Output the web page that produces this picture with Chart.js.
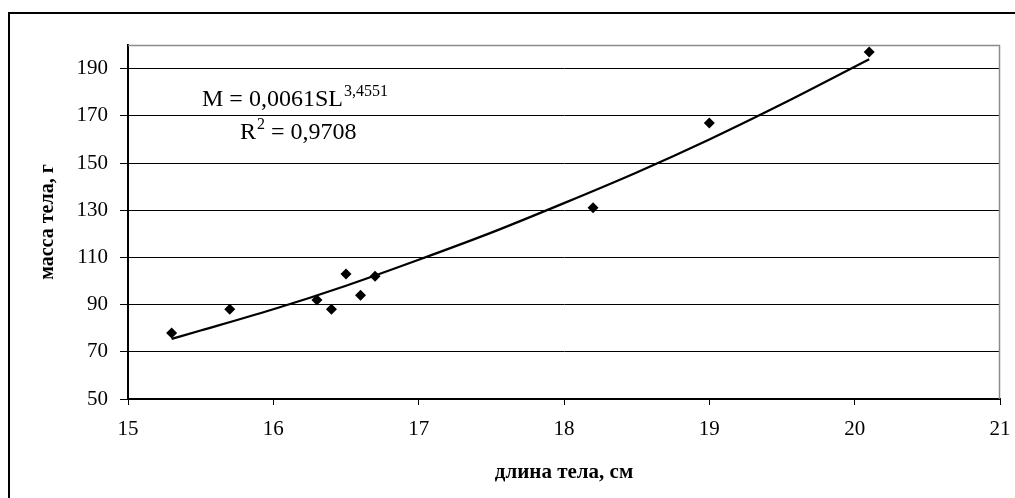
<!DOCTYPE html>
<html>
<head>
<meta charset="utf-8">
<style>
  html, body { margin: 0; padding: 0; background: #fff; }
  #wrap { width: 1015px; height: 498px; }
</style>
<script src="https://cdn.jsdelivr.net/npm/chart.js@4/dist/chart.umd.min.js"></script>
</head>
<body>
<div id="wrap"><canvas id="c" width="1015" height="498"></canvas></div>
<script>
// measured points: body length (cm) vs body mass (g)
const lengths = [15.3, 15.7, 16.3, 16.4, 16.5, 16.6, 16.7, 18.2, 19.0, 20.1];
const masses = [78, 88, 92, 88, 103, 94, 102, 131, 167, 197];

// trend line
const trendX = [15.3, 15.5, 16, 16.5, 17, 17.5, 18, 18.5, 19, 19.5, 20.1];
const trendY = [75.5, 79, 88, 98, 109, 120.5, 133, 146, 160, 175, 194];

const yTicks = [50, 70, 90, 110, 130, 150, 170, 190];
const xTicks = [15, 16, 17, 18, 19, 20, 21];

const xTitle = "длина тела, см";
const yTitle = "масса тела, г";
const eqMain = "M = 0,0061SL";
const eqPow = "3,4551";
const r2Lead = "R";
const r2Pow = "2";
const r2Tail = " = 0,9708";

const serif = "'Liberation Serif', 'Times New Roman', serif";

const decor = {
  id: "decor",
  beforeDraw(chart) {
    const ctx = chart.ctx;
    ctx.save();
    ctx.fillStyle = "#fff";
    ctx.fillRect(0, 0, chart.width, chart.height);
    // outer frame (left and top visible)
    ctx.strokeStyle = "#000";
    ctx.lineWidth = 2;
    ctx.beginPath();
    ctx.moveTo(9, chart.height + 5);
    ctx.lineTo(9, 13);
    ctx.lineTo(chart.width + 5, 13);
    ctx.stroke();
    ctx.restore();
  },
  beforeDatasetsDraw(chart) {
    const { ctx, chartArea: a } = chart;
    ctx.save();
    ctx.strokeStyle = "#8c8c8c";
    ctx.lineWidth = 1.5;
    ctx.beginPath();
    ctx.moveTo(a.left, a.top + 0.5);
    ctx.lineTo(a.right - 0.5, a.top + 0.5);
    ctx.lineTo(a.right - 0.5, a.bottom);
    ctx.stroke();
    ctx.restore();
  },
  afterDraw(chart) {
    const { ctx, chartArea: a } = chart;
    ctx.save();
    ctx.fillStyle = "#000";
    ctx.textBaseline = "alphabetic";
    ctx.textAlign = "left";
    let x = a.left + 74;
    let y = a.top + 61;
    ctx.font = "24px " + serif;
    ctx.fillText(eqMain, x, y);
    x += ctx.measureText(eqMain).width + 1;
    ctx.font = "16px " + serif;
    ctx.fillText(eqPow, x, y - 10);

    x = a.left + 112;
    y = a.top + 94;
    ctx.font = "24px " + serif;
    ctx.fillText(r2Lead, x, y);
    x += ctx.measureText(r2Lead).width + 1;
    ctx.font = "16px " + serif;
    ctx.fillText(r2Pow, x, y - 10);
    x += ctx.measureText(r2Pow).width;
    ctx.font = "24px " + serif;
    ctx.fillText(r2Tail, x, y);
    ctx.restore();
  }
};

new Chart(document.getElementById("c"), {
  type: "scatter",
  data: {
    datasets: [
      {
        label: "trend",
        data: trendX.map((x, i) => ({ x, y: trendY[i] })),
        showLine: true,
        borderColor: "#000",
        borderWidth: 2.2,
        pointRadius: 0,
        tension: 0.4,
        cubicInterpolationMode: "monotone",
        order: 2
      },
      {
        label: "data",
        data: lengths.map((x, i) => ({ x, y: masses[i] })),
        pointStyle: "rectRot",
        pointRadius: 5.5,
        backgroundColor: "#000",
        borderColor: "#000",
        borderWidth: 0,
        order: 1
      }
    ]
  },
  options: {
    responsive: false,
    animation: false,
    layout: { padding: { left: 0, top: 45, right: 15, bottom: 0 } },
    plugins: {
      legend: { display: false },
      tooltip: { enabled: false }
    },
    scales: {
      x: {
        type: "linear",
        min: 15,
        max: 21,
        afterBuildTicks: (axis) => { axis.ticks = xTicks.map((v) => ({ value: v })); },
        afterFit: (scale) => {
          scale.height = 99;
          scale.paddingLeft = 0;
          scale.paddingRight = 0;
        },
        grid: { drawOnChartArea: false, drawTicks: true, tickLength: 6, color: "#000", lineWidth: 1 },
        border: { color: "#000", width: 2 },
        ticks: { color: "#000", padding: 12, maxRotation: 0, font: { family: serif, size: 21 } },
        title: {
          display: true,
          text: xTitle,
          color: "#000",
          padding: { top: 0, bottom: 13 },
          font: { family: serif, size: 21, weight: "bold" }
        }
      },
      y: {
        type: "linear",
        min: 50,
        max: 200,
        afterBuildTicks: (axis) => { axis.ticks = yTicks.map((v) => ({ value: v })); },
        afterFit: (scale) => {
          scale.width = 128;
          scale.paddingTop = 0;
          scale.paddingBottom = 0;
        },
        grid: { drawOnChartArea: true, drawTicks: true, tickLength: 8, color: "#000", lineWidth: 1 },
        border: { color: "#000", width: 2 },
        ticks: { color: "#000", padding: 12, font: { family: serif, size: 21 } },
        title: {
          display: true,
          text: yTitle,
          color: "#000",
          padding: { top: 36, bottom: 0 },
          font: { family: serif, size: 20, weight: "bold" }
        }
      }
    }
  },
  plugins: [decor]
});
</script>
</body>
</html>
